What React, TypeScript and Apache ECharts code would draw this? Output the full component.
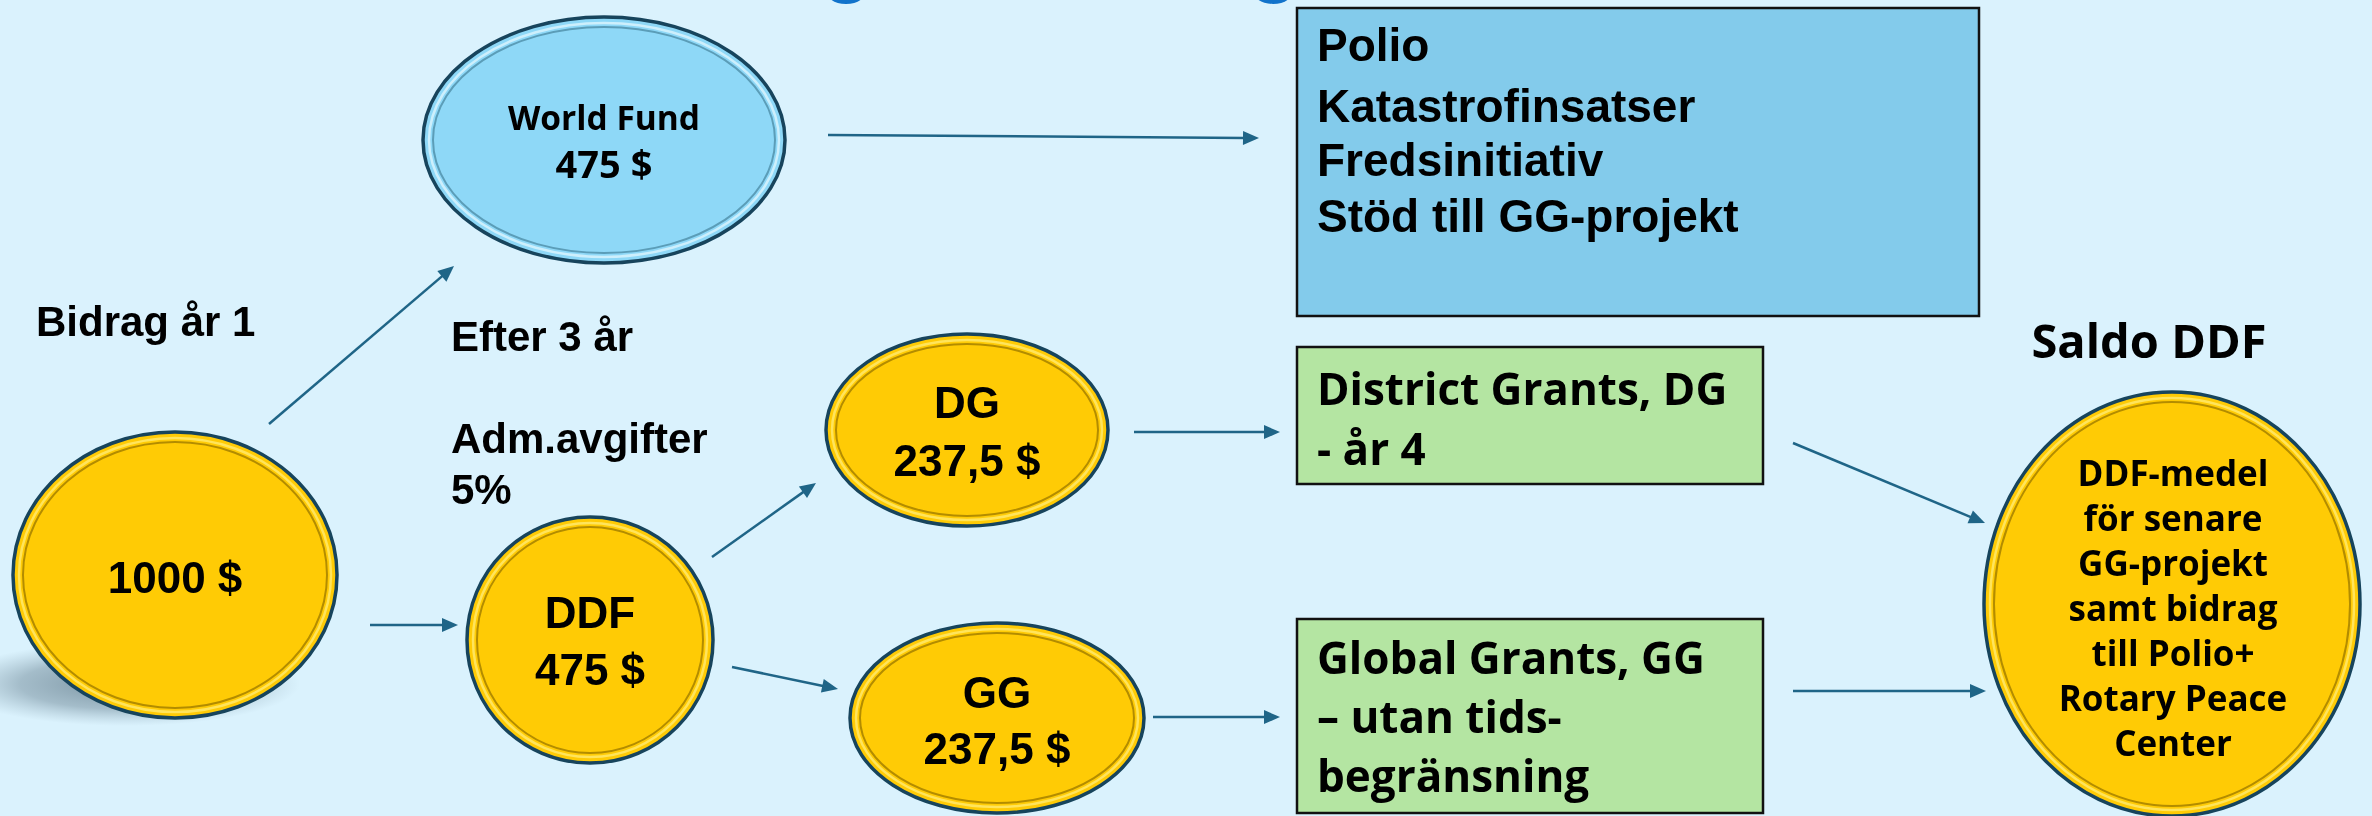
import React, { useEffect, useRef } from "react";
import * as echarts from "echarts";

// ---- data ----
const sourceLabel = ["Bidrag år 1"];
const stageLabel = ["Efter 3 år"];
const adminFeeLabel = ["Adm.avgifter", "5%"];
const coinNames = ["", "World Fund", "DDF", "DG", "GG"];
const coinAmounts = [1000, 475, 475, 237.5, 237.5];
const worldFundUses = ["Polio", "Katastrofinsatser", "Fredsinitiativ", "Stöd till GG-projekt"];
const dgBoxLines = ["District Grants, DG", "- år 4"];
const ggBoxLines = ["Global Grants, GG", "– utan tids-", "begränsning"];
const saldoTitle = ["Saldo DDF"];
const saldoLines = ["DDF-medel", "för senare", "GG-projekt", "samt bidrag", "till Polio+", "Rotary Peace", "Center"];

const fmtAmount = (v: number) => String(v).replace(".", ",") + " $";

const ARIAL = '"Liberation Sans", Arial, sans-serif';
const APTOS = '"Open Sans", "Noto Sans", sans-serif';
const ARROW = "#1F6587";
const BG = "#DAF2FD";

function coin(cx: number, cy: number, rx: number, ry: number, kind: "gold" | "blue"): any[] {
  const fill = kind === "gold" ? "#FFCB05" : "#8ED8F7";
  const light = kind === "gold" ? "#FFE45C" : "#CDEFFC";
  const dark = kind === "gold" ? "#B38C00" : "#5B9DB8";
  return [
    { type: "ellipse", silent: true, shape: { cx, cy, rx, ry }, style: { fill, stroke: "#17445C", lineWidth: 3.5 } },
    { type: "ellipse", silent: true, shape: { cx, cy, rx: rx - 6, ry: ry - 6 }, style: { fill: "none", stroke: light, lineWidth: 2.5 } },
    { type: "ellipse", silent: true, shape: { cx, cy, rx: rx - 10, ry: ry - 10 }, style: { fill: "none", stroke: dark, lineWidth: 2 } },
  ];
}

function arrow(x1: number, y1: number, x2: number, y2: number): any[] {
  const dx = x2 - x1, dy = y2 - y1;
  const L = Math.sqrt(dx * dx + dy * dy);
  const ux = dx / L, uy = dy / L;
  const nx = -uy, ny = ux;
  const hl = 16, hw = 7;
  const bx = x2 - ux * hl, by = y2 - uy * hl;
  return [
    { type: "line", silent: true, shape: { x1, y1, x2: bx + ux * 2, y2: by + uy * 2 }, style: { stroke: ARROW, lineWidth: 2.5 } },
    {
      type: "polygon", silent: true,
      shape: { points: [[x2, y2], [bx + nx * hw, by + ny * hw], [bx - nx * hw, by - ny * hw]] },
      style: { fill: ARROW },
    },
  ];
}

function txt(text: string, x: number, y: number, size: number, family: string, align: string = "left", va: string = "middle"): any {
  return {
    type: "text", silent: true, x, y,
    style: { text, font: `bold ${size}px ${family}`, fill: "#000", textAlign: align, textVerticalAlign: va },
  };
}

function box(x: number, y: number, w: number, h: number, fill: string): any {
  return { type: "rect", silent: true, shape: { x, y, width: w, height: h }, style: { fill, stroke: "#111", lineWidth: 2.5 } };
}

export default function App() {
  const ref = useRef<HTMLDivElement>(null);
  useEffect(() => {
    document.body.style.margin = "0";
    const chart = echarts.init(ref.current!, undefined, { renderer: "svg" });
    const els: any[] = [];
    // background
    els.push({ type: "rect", silent: true, shape: { x: 0, y: 0, width: 2372, height: 816 }, style: { fill: BG } });
    // cut-off title descenders
    els.push({ type: "ellipse", silent: true, shape: { cx: 846, cy: -6, rx: 18, ry: 10 }, style: { fill: "#1173CB" } });
    els.push({ type: "ellipse", silent: true, shape: { cx: 1273, cy: -6, rx: 18, ry: 10 }, style: { fill: "#1173CB" } });

    // shadow of first coin
    els.push({
      type: "ellipse", silent: true, shape: { cx: 125, cy: 684, rx: 175, ry: 42 },
      style: {
        fill: new echarts.graphic.RadialGradient(0.5, 0.5, 0.5, [
          { offset: 0, color: "rgba(100,125,140,0.85)" },
          { offset: 0.6, color: "rgba(120,145,160,0.55)" },
          { offset: 1, color: "rgba(150,175,190,0)" },
        ]),
      },
    });

    // coins
    els.push(...coin(175, 575, 162, 143, "gold"));
    els.push(txt(fmtAmount(coinAmounts[0]), 175, 577, 44, ARIAL, "center"));

    els.push(...coin(604, 140, 181, 123, "blue"));
    els.push(txt(coinNames[1], 604, 117, 33.5, APTOS, "center"));
    els.push(txt(fmtAmount(coinAmounts[1]), 604, 163, 38, APTOS, "center"));

    els.push(...coin(590, 640, 123, 123, "gold"));
    els.push(txt(coinNames[2], 590, 612, 44, ARIAL, "center"));
    els.push(txt(fmtAmount(coinAmounts[2]), 590, 669, 44, ARIAL, "center"));

    els.push(...coin(967, 430, 141, 96, "gold"));
    els.push(txt(coinNames[3], 967, 402, 44, ARIAL, "center"));
    els.push(txt(fmtAmount(coinAmounts[3]), 967, 460, 44, ARIAL, "center"));

    els.push(...coin(997, 718, 147, 95, "gold"));
    els.push(txt(coinNames[4], 997, 692, 44, ARIAL, "center"));
    els.push(txt(fmtAmount(coinAmounts[4]), 997, 748, 44, ARIAL, "center"));

    els.push(...coin(2172, 604, 188, 212, "gold"));
    saldoLines.forEach((l, i) => els.push(txt(l, 2173, 472 + i * 45, 35, APTOS, "center")));

    // labels
    els.push(txt(sourceLabel[0], 36, 342, 42, ARIAL, "left", "bottom"));
    els.push(txt(stageLabel[0], 451, 357, 42, ARIAL, "left", "bottom"));
    els.push(txt(adminFeeLabel[0], 451, 459, 42, ARIAL, "left", "bottom"));
    els.push(txt(adminFeeLabel[1], 451, 510, 42, ARIAL, "left", "bottom"));
    els.push(txt(saldoTitle[0], 2149, 340, 47, APTOS, "center"));

    // boxes
    els.push(box(1297, 8, 682, 308, "#83CBEB"));
    const wfY = [45, 106, 160, 216];
    worldFundUses.forEach((l, i) => els.push(txt(l, 1317, wfY[i], 46, ARIAL)));
    els.push(box(1297, 347, 466, 137, "#B4E5A2"));
    dgBoxLines.forEach((l, i) => els.push(txt(l, 1317, 388 + i * 60, 44, APTOS)));
    els.push(box(1297, 619, 466, 194, "#B4E5A2"));
    ggBoxLines.forEach((l, i) => els.push(txt(l, 1317, 657 + i * 59, 44, APTOS)));

    // arrows
    els.push(...arrow(269, 424, 454, 266));
    els.push(...arrow(370, 625, 458, 625));
    els.push(...arrow(828, 135, 1259, 138));
    els.push(...arrow(712, 557, 816, 483));
    els.push(...arrow(732, 667, 838, 689));
    els.push(...arrow(1134, 432, 1280, 432));
    els.push(...arrow(1153, 717, 1280, 717));
    els.push(...arrow(1793, 443, 1985, 523));
    els.push(...arrow(1793, 691, 1986, 691));

    chart.setOption({ animation: false, graphic: { elements: els } });
    return () => chart.dispose();
  }, []);
  return <div ref={ref} style={{ position: "fixed", left: 0, top: 0, width: 2372, height: 816 }} />;
}
